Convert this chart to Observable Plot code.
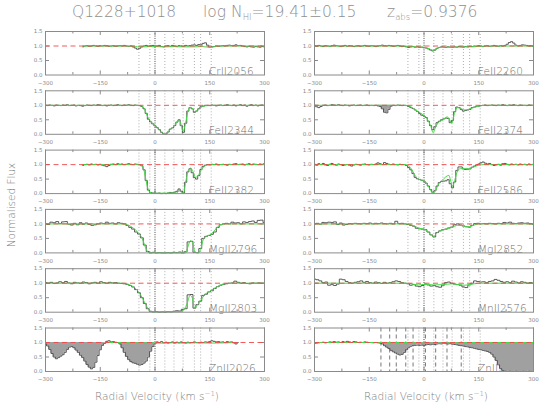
<!DOCTYPE html>
<html><head><meta charset="utf-8">
<script src="https://cdn.jsdelivr.net/npm/d3@7"></script>
<script src="https://cdn.jsdelivr.net/npm/@observablehq/plot@0.6"></script>
<style>
body{margin:0;background:#fff;}
#wrap{position:relative;width:548px;height:404px;font-family:"DejaVu Sans",sans-serif;color:#999;overflow:hidden;}
.t{position:absolute;white-space:pre;line-height:1;}
</style></head><body><div id="wrap"></div>
<script>
// ---- axis / component definitions (km/s) ----
const comps = [-44, -14, 27, 52, 77, 108, 125, 154];
const zeroLine = [0];
const crII2062Lines = [-118, -94, -76, -50, -30, 4, 32, 63, 102];
const xTicks = [-300, -225, -150, -75, 0, 75, 150, 225, 300];
const xTickLabels = [-300, -150, 0, 150, 300];
const yTickLabels = [0, 0.5, 1.0, 1.5];
const yInnerTicks = [0.5, 1.0];

// ---- spectra (normalised flux on regular velocity grids) ----
const crII2056 = [ // start -198, step 6
0.97,1.00,1.01,0.99,1.00,1.02,1.00,0.99,1.01,1.00,
1.02,1.01,0.99,1.00,1.01,0.99,1.00,1.01,1.00,1.02,
1.00,0.99,1.00,0.97,0.93,0.89,0.92,0.97,1.00,1.02,
0.99,1.01,1.02,0.99,1.00,1.02,0.98,0.97,1.00,1.01,
0.99,1.02,1.00,0.98,1.01,1.00,0.99,1.02,1.00,1.01,
1.03,1.04,1.02,1.05,1.04,1.09,1.11,1.03,0.96,0.97,
0.98,1.00,0.99,1.00,1.01,1.00,1.02,1.03,1.01,1.02,
1.04,1.01,1.02,1.00,0.98,0.97,0.99,0.97,0.96,0.98,
0.97,0.96,0.98,0.97];
const feII2344 = [ // start -300, step 6
1.00,0.99,1.01,1.00,0.98,1.01,1.00,0.99,1.01,1.00,
1.02,0.99,1.00,1.01,0.98,1.00,0.99,0.97,0.99,1.01,
1.00,0.99,1.01,1.00,1.02,1.01,0.99,1.00,0.98,1.00,
1.01,0.99,1.00,1.02,1.00,0.99,1.01,1.00,1.02,1.00,
0.99,1.01,1.00,0.99,0.96,0.88,0.72,0.52,0.43,0.36,
0.29,0.23,0.16,0.07,0.01,0.01,0.08,0.18,0.22,0.30,
0.42,0.50,0.30,0.07,0.38,0.80,0.92,0.88,0.76,0.80,
0.88,0.95,0.97,1.00,1.00,0.99,1.01,1.00,0.98,1.00,
1.01,0.99,1.00,1.02,1.00,0.99,1.01,0.98,1.00,1.02,
0.99,1.01,0.97,1.00,1.02,0.99,1.01,0.98,1.00,1.01,
0.99];
const feII2382 = [ // start -198, step 6
0.97,1.00,1.01,0.99,1.02,1.00,1.01,0.99,1.01,0.98,
0.96,0.93,0.97,1.01,1.02,1.00,1.03,1.01,1.02,1.00,
1.01,1.03,1.01,1.00,1.02,1.01,1.00,0.96,0.82,0.45,
0.12,0.04,0.02,0.02,0.01,0.02,0.00,0.01,0.00,0.02,
0.04,0.03,0.05,0.08,0.16,0.08,0.02,0.39,0.75,0.86,
0.72,0.55,0.50,0.62,0.83,0.94,0.98,1.00,0.99,1.01,
1.00,1.02,0.99,1.00,1.01,1.00,0.98,1.01,1.00,1.02,
1.03,1.00,1.01,1.02,0.99,1.01,1.03,1.00,1.02,1.01,
1.00,1.02,1.01,1.03];
const mgII2796 = [ // start -300, step 8
1.00,0.98,1.06,1.04,1.08,1.01,1.07,1.08,0.99,0.96,
1.02,0.97,1.04,0.99,1.03,0.98,0.95,0.97,1.00,1.03,
1.01,1.06,1.02,1.03,1.00,1.04,1.02,1.00,0.95,0.88,
0.82,0.72,0.65,0.52,0.27,0.05,0.00,0.02,0.00,0.01,
0.00,0.00,0.01,0.00,0.02,0.01,0.03,0.00,0.04,0.38,
0.40,0.02,0.01,0.15,0.50,0.57,0.60,0.64,0.72,0.88,
0.97,1.00,1.02,1.00,1.06,1.03,1.04,1.00,1.07,1.05,
1.08,1.10,1.05,1.12,1.13,1.04];
const mgII2803 = [ // start -300, step 8
1.02,1.00,1.03,0.99,1.01,1.05,1.02,1.06,1.01,0.98,
1.03,1.01,1.00,1.04,1.02,0.98,1.01,1.03,1.00,1.05,
1.02,1.00,1.03,1.01,1.02,1.00,0.99,0.98,0.96,0.92,
0.87,0.78,0.67,0.50,0.30,0.12,0.03,0.01,0.02,0.00,
0.01,0.00,0.02,0.01,0.03,0.05,0.04,0.10,0.12,0.60,
0.61,0.14,0.26,0.38,0.58,0.62,0.70,0.74,0.82,0.88,
0.93,0.96,0.98,1.00,1.01,1.07,1.03,1.00,1.02,0.99,
0.98,1.01,1.00,1.01,1.00,1.00];
const znII2026 = [ // start -300, step 6
0.95,0.88,0.76,0.62,0.50,0.44,0.48,0.53,0.58,0.66,
0.76,0.84,0.86,0.82,0.74,0.66,0.56,0.48,0.36,0.24,
0.15,0.09,0.14,0.32,0.55,0.75,0.90,0.97,1.04,1.06,
1.02,1.03,1.01,1.00,0.95,0.82,0.66,0.52,0.41,0.34,
0.30,0.28,0.25,0.22,0.24,0.29,0.36,0.50,0.70,0.86,
0.96,1.02,1.00,1.03,0.99,1.01,0.98,1.00,1.02,0.98,
1.01,0.99,1.02,1.00,0.98,1.01,0.99,1.00,1.02,1.00,
0.99,1.01,1.00,1.02,1.01,1.03,1.06,1.04,1.02,1.03,
1.01,1.02,1.00,1.03,1.01,1.02,0.99,0.95,1.00];
const feII2260 = [ // start -300, step 6
1.01,0.99,1.02,1.00,0.98,1.01,1.00,0.99,1.01,1.03,
1.01,1.00,0.98,1.00,1.02,0.99,1.01,1.00,0.98,1.00,
1.01,0.99,1.00,1.02,1.00,0.99,1.01,1.00,0.98,1.00,
1.01,1.03,1.01,1.00,1.02,1.01,0.99,1.00,1.02,1.00,
0.98,0.99,0.97,0.95,0.97,0.98,0.96,0.97,0.95,0.96,
0.94,0.93,0.90,0.86,0.83,0.86,0.92,0.95,0.97,0.96,
0.95,0.97,0.96,0.95,0.97,0.96,0.98,0.97,0.96,0.98,
0.97,0.99,0.98,1.00,0.99,1.01,1.00,0.98,1.00,1.01,
0.99,1.00,1.02,1.00,0.99,1.01,1.00,1.02,1.06,1.12,
1.15,1.10,1.03,1.00,1.02,1.04,1.03,1.02,1.00,1.01,
0.99];
const feII2374 = [ // start -300, step 6
1.00,0.95,0.92,0.96,1.00,1.01,0.99,1.00,1.02,1.01,
1.00,1.02,1.00,0.99,1.01,1.00,0.98,1.00,1.01,0.99,
1.00,1.01,0.99,1.00,1.01,0.99,1.00,0.99,1.00,0.98,
0.96,0.88,0.76,0.74,0.86,0.97,1.00,0.99,1.01,1.00,
0.99,1.00,0.99,0.96,0.92,0.89,0.84,0.79,0.72,0.66,
0.63,0.58,0.45,0.30,0.16,0.26,0.40,0.45,0.50,0.53,
0.56,0.55,0.40,0.48,0.78,0.94,0.92,0.86,0.80,0.82,
0.84,0.86,0.92,0.94,0.96,0.97,0.99,1.00,1.01,0.99,
1.00,1.01,1.00,0.99,1.01,1.00,1.02,1.00,0.99,1.01,
1.00,1.02,1.00,0.99,1.01,1.00,1.00,0.99,1.01,1.00,
1.00];
const feII2586 = [ // start -300, step 6
1.01,0.98,1.03,1.00,1.04,0.99,0.97,1.01,1.04,1.00,
0.98,1.02,1.00,0.97,0.99,1.00,0.98,0.95,0.99,1.01,
1.00,0.98,1.01,1.02,1.00,0.99,1.01,1.00,1.02,1.06,
1.03,1.00,1.07,1.04,1.01,1.00,1.02,1.00,0.99,1.01,
1.00,1.00,0.97,0.90,0.82,0.69,0.56,0.51,0.49,0.46,
0.43,0.36,0.26,0.14,0.05,0.10,0.26,0.38,0.42,0.43,
0.44,0.48,0.34,0.20,0.40,0.80,0.92,0.92,0.85,0.83,
0.84,0.85,0.91,0.95,0.98,1.02,1.06,1.09,1.05,1.02,
1.04,1.00,0.97,0.99,1.01,0.98,1.03,1.04,1.01,0.99,
1.02,1.00,1.01,0.99,1.02,1.00,1.01,0.99,1.02,1.00,
1.01];
const mgI2852 = [ // start -300, step 8
1.00,1.02,0.99,1.05,1.04,1.06,1.05,1.07,0.98,1.03,
0.96,0.98,1.01,1.00,1.02,1.01,1.00,1.02,1.01,1.03,
1.00,1.02,1.01,1.03,1.01,1.00,1.02,1.00,1.09,1.01,
1.02,1.00,0.98,0.95,0.92,0.85,0.83,0.82,0.80,0.72,
0.62,0.55,0.70,0.76,0.80,0.82,0.86,0.89,0.97,1.00,
0.96,0.93,0.90,0.89,0.95,1.01,1.02,1.00,1.01,1.00,
1.02,1.01,1.00,1.02,1.01,1.05,1.03,1.06,1.02,1.01,
1.03,1.04,1.02,1.03,1.01,0.99];
const mnII2576 = [ // start -300, step 8
1.14,1.12,1.08,1.02,1.04,0.93,0.95,0.92,0.97,1.14,
1.12,1.06,1.02,1.00,1.03,1.05,1.08,1.03,1.06,1.02,
1.00,1.04,1.02,0.99,1.03,1.00,1.02,1.05,1.08,1.06,
1.02,1.00,0.98,0.93,0.95,0.90,0.88,0.92,0.97,0.94,
0.90,0.92,0.88,0.86,0.93,1.02,1.04,1.00,0.97,0.95,
0.93,0.87,0.85,0.94,1.00,1.08,1.06,1.04,1.05,1.02,
1.06,1.08,1.13,1.10,1.06,1.03,1.05,1.02,1.07,1.04,
1.01,1.05,1.03,1.00,1.02,1.00];
const znII2062 = [ // start -300, step 6
0.97,0.98,0.99,1.00,1.01,0.99,1.00,1.02,1.01,1.03,
1.01,1.02,1.00,1.03,1.01,1.04,1.02,1.00,1.03,1.02,
1.00,1.01,1.00,1.02,1.01,1.00,1.00,0.99,1.00,0.99,
0.98,0.95,0.89,0.84,0.79,0.73,0.68,0.64,0.60,0.57,
0.59,0.66,0.75,0.82,0.87,0.89,0.90,0.91,0.90,0.91,
0.90,0.92,0.93,0.92,0.94,0.93,0.95,0.96,0.95,0.97,
0.96,0.95,0.96,0.94,0.93,0.92,0.90,0.89,0.88,0.86,
0.85,0.83,0.82,0.80,0.78,0.76,0.75,0.73,0.71,0.69,
0.66,0.60,0.50,0.38,0.23,0.10,0.03,0.01,0.00,0.01,
0.00,0.00,0.01,0.00,0.00,0.01,0.00,0.00,0.01,0.00,
0.00];

// ---- model fits: [velocity, flux] knots ----
const crII2056Fit = [[-198,1],[-60,1],[-48,0.97],[-36,0.97],[-14,0.98],[0,0.98],[27,0.97],[52,0.98],[77,0.97],[108,0.97],[130,0.98],[154,0.95],[170,1],[300,1]];
const feII2344Fit = [[-300,1],[-50,1],[-40,0.99],[-30,0.9],[-24,0.72],[-18,0.55],[-10,0.42],[0,0.3],[10,0.18],[18,0.07],[25,0.01],[32,0.02],[40,0.15],[50,0.25],[58,0.38],[65,0.5],[70,0.4],[77,0.1],[84,0.4],[90,0.78],[96,0.93],[102,0.9],[108,0.78],[115,0.82],[122,0.9],[130,0.96],[145,0.99],[160,1],[300,1]];
const feII2382Fit = [[-198,1],[-50,1],[-40,0.99],[-32,0.88],[-26,0.55],[-20,0.2],[-14,0.05],[-6,0.01],[60,0.02],[66,0.1],[72,0.05],[78,0.02],[84,0.4],[92,0.82],[98,0.88],[104,0.76],[111,0.56],[118,0.62],[126,0.8],[134,0.93],[145,0.99],[160,1],[300,1]];
const mgII2796Fit = [[-300,1],[-90,1],[-76,0.97],[-60,0.86],[-45,0.68],[-35,0.5],[-28,0.25],[-20,0.04],[-14,0],[84,0],[90,0.2],[97,0.42],[103,0.35],[110,0.03],[118,0],[125,0.12],[132,0.45],[140,0.57],[150,0.62],[160,0.72],[168,0.85],[178,0.96],[190,1],[300,1]];
const mgII2803Fit = [[-300,1],[-90,1],[-76,0.97],[-60,0.88],[-45,0.7],[-35,0.5],[-25,0.25],[-15,0.05],[-8,0.01],[70,0.02],[80,0.1],[88,0.3],[96,0.58],[102,0.5],[108,0.15],[116,0.25],[126,0.42],[136,0.6],[150,0.72],[165,0.84],[180,0.94],[195,0.99],[210,1],[300,1]];
const znII2026Fit = [[-132,1],[-50,0.99],[-14,0.98],[0,0.98],[27,0.98],[52,0.99],[77,0.98],[108,0.99],[154,0.98],[225,1]];
const feII2260Fit = [[-300,1],[-50,1],[-44,0.98],[-20,0.97],[0,0.96],[15,0.9],[25,0.85],[35,0.92],[50,0.96],[77,0.96],[110,0.97],[125,0.97],[154,0.99],[170,1],[300,1]];
const feII2374Fit = [[-300,1],[-50,1],[-40,0.97],[-25,0.86],[-10,0.73],[0,0.65],[10,0.5],[18,0.3],[25,0.06],[32,0.25],[40,0.42],[52,0.5],[64,0.6],[70,0.5],[76,0.38],[84,0.75],[92,0.92],[100,0.9],[110,0.84],[122,0.86],[135,0.92],[150,0.97],[165,1],[300,1]];
const feII2586Fit = [[-300,1],[-50,1],[-42,0.95],[-34,0.84],[-26,0.66],[-18,0.52],[-8,0.47],[0,0.44],[10,0.3],[18,0.12],[25,0],[32,0.12],[40,0.33],[50,0.46],[60,0.58],[68,0.63],[74,0.4],[78,0.25],[84,0.45],[92,0.78],[100,0.86],[110,0.86],[122,0.86],[135,0.91],[150,0.98],[165,1],[300,1]];
const mgI2852Fit = [[-300,1],[-50,1],[-40,0.98],[-25,0.92],[-14,0.85],[0,0.82],[12,0.72],[20,0.62],[26,0.55],[34,0.68],[45,0.76],[60,0.82],[77,0.88],[92,0.95],[100,0.95],[110,0.92],[124,0.9],[135,0.95],[150,1],[300,1]];
const mnII2576Fit = [[-300,1],[-50,1],[-40,0.99],[-15,0.94],[0,0.96],[27,0.94],[50,0.95],[77,0.98],[110,0.93],[125,0.95],[150,1],[300,1]];
const znII2062Fit = [[-300,1],[-50,1],[-14,0.98],[27,0.97],[52,0.98],[77,0.99],[110,0.99],[154,1],[300,1]];

// ---- blended regions (shaded) ----
const znII2026Blends = [[-300,-138],[-96,0]];
const feII2374Blends = [[-126,-88]];
const znII2062Blends = [[-120,300]];

// ---- panel layout: name, column, row ----
const panelNames = ["CrII2056","FeII2344","FeII2382","MgII2796","MgII2803","ZnII2026",
                    "FeII2260","FeII2374","FeII2586","MgI2852","MnII2576","ZnII2062"];
const panelCol = [0,0,0,0,0,0,1,1,1,1,1,1];
const panelRow = [0,1,2,3,4,5,0,1,2,3,4,5];
const panelFlux = [crII2056,feII2344,feII2382,mgII2796,mgII2803,znII2026,
                   feII2260,feII2374,feII2586,mgI2852,mnII2576,znII2062];
const panelStart = [-198,-300,-198,-300,-300,-300,-300,-300,-300,-300,-300,-300];
const panelStep = [6,6,6,8,8,6,6,6,6,8,8,6];
const panelFit = [crII2056Fit,feII2344Fit,feII2382Fit,mgII2796Fit,mgII2803Fit,znII2026Fit,
                  feII2260Fit,feII2374Fit,feII2586Fit,mgI2852Fit,mnII2576Fit,znII2062Fit];
const panelBlends = [[],[],[],[],[],znII2026Blends,[],feII2374Blends,[],[],[],znII2062Blends];

// ---- build tables ----
const spec = [], fits = [], fills = [], labels = [];
panelNames.forEach((name, k) => {
  const col = panelCol[k], row = panelRow[k];
  panelFlux[k].forEach((f, i) => {
    const v = panelStart[k] + i * panelStep[k];
    spec.push({name, col, row, v, f});
    panelBlends[k].forEach(([a, b], j) => {
      if (v >= a && v <= b) fills.push({key: name + j, col, row, v, f});
    });
  });
  panelFit[k].forEach(([v, f]) => fits.push({name, col, row, v, f}));
  labels.push({name, col, row});
});
const crLines = crII2062Lines.map(v => ({v, col: 1, row: 5}));

const AX = "#8a8a8a";
const fmt = d => (d < 0 ? "\u2212" + (-d) : String(d));

const chart = Plot.plot({
  width: 548, height: 404,
  marginLeft: 45, marginRight: 15, marginTop: 31, marginBottom: 33,
  style: {fontFamily: "DejaVu Sans, sans-serif", background: "white", overflow: "visible"},
  x: {domain: [-300, 300], axis: null},
  y: {domain: [0, 1.5], axis: null},
  fx: {domain: [0, 1], axis: null, paddingInner: 50 / 269, paddingOuter: 0, round: false},
  fy: {domain: [0, 1, 2, 3, 4, 5], axis: null, paddingInner: 15.8 / 59.3, paddingOuter: 0, round: false},
  marks: [
    Plot.ruleX(comps, {x: d => d, stroke: "#9a9a9a", strokeWidth: 0.8, strokeDasharray: "1,2"}),
    Plot.ruleX(zeroLine, {x: d => d, stroke: "#333", strokeWidth: 0.9, strokeDasharray: "1,1.3"}),
    Plot.ruleX(crLines, {x: "v", fx: "col", fy: "row", stroke: "#555", strokeWidth: 0.8, strokeDasharray: "4,3"}),
    Plot.ruleX(xTicks, {x: d => d, y1: 0, y2: d => (d % 150 === 0 ? 0.14 : 0.085), stroke: AX}),
    Plot.ruleX(xTicks, {x: d => d, y1: 1.5, y2: d => 1.5 - (d % 150 === 0 ? 0.14 : 0.085), stroke: AX}),
    Plot.ruleY(yInnerTicks, {y: d => d, x1: -300, x2: -289, stroke: AX}),
    Plot.ruleY(yInnerTicks, {y: d => d, x1: 300, x2: 289, stroke: AX}),
    Plot.text(xTickLabels, {x: d => d, y: 0, dy: 8, text: fmt, fontSize: 5.5, fill: "#888"}),
    Plot.text(yTickLabels, {x: -300, y: d => d, dx: -3, text: d => d.toFixed(1), textAnchor: "end", fontSize: 5.5, fill: "#888"}),
    Plot.text(labels, {x: 148, y: 0, fx: "col", fy: "row", text: "name", textAnchor: "start", lineAnchor: "bottom", dy: 0, fontSize: 10.5, fontWeight: 300, fill: "#6e6e6e"}),
    Plot.areaY(fills, {x: "v", y1: "f", y2: 1, z: "key", fx: "col", fy: "row", fill: "#a0a0a0", curve: "step"}),
    Plot.line(spec, {x: "v", y: "f", z: "name", fx: "col", fy: "row", curve: "step", stroke: "#4a4a4a", strokeWidth: 0.9}),
    Plot.line(fits, {x: "v", y: "f", z: "name", fx: "col", fy: "row", curve: "monotone-x", stroke: "#45da45", strokeWidth: 1}),
    Plot.ruleY([1], {y: d => d, stroke: "#f04848", strokeWidth: 0.9, strokeDasharray: "5,3.5"}),
    Plot.frame({stroke: AX, strokeWidth: 1})
  ]
});

const wrap = document.getElementById("wrap");
wrap.appendChild(chart);

function addText(html, css) {
  const d = document.createElement("div");
  d.className = "t";
  d.innerHTML = html;
  Object.assign(d.style, css);
  wrap.appendChild(d);
  return d;
}
const sub = s => `<span style="font-size:8.5px;position:relative;top:3px">${s}</span>`;
const titleCss = {top: "5px", fontSize: "15.5px", fontWeight: "300", color: "#8f8f8f"};
addText("Q1228+1018", Object.assign({left: "72px"}, titleCss));
addText("log N" + sub("HI") + "=19.41\u00b10.15", Object.assign({left: "203px"}, titleCss));
addText("z" + sub("abs") + "=0.9376", Object.assign({left: "387px"}, titleCss));
addText("Normalised Flux", {left: "-39px", top: "199px", width: "100px", textAlign: "center", fontSize: "10.5px", fontWeight: "300", color: "#7e7e7e", transform: "rotate(-90deg)", transformOrigin: "50% 50%", lineHeight: "12px"});
const xl = "Radial Velocity (km s" + `<span style="font-size:7px;position:relative;top:-4px">\u22121</span>` + ")";
addText(xl, {left: "57px", width: "200px", textAlign: "center", top: "391px", fontSize: "10.5px", fontWeight: "300", color: "#7e7e7e"});
addText(xl, {left: "326px", width: "200px", textAlign: "center", top: "391px", fontSize: "10.5px", fontWeight: "300", color: "#7e7e7e"});
</script></body></html>
